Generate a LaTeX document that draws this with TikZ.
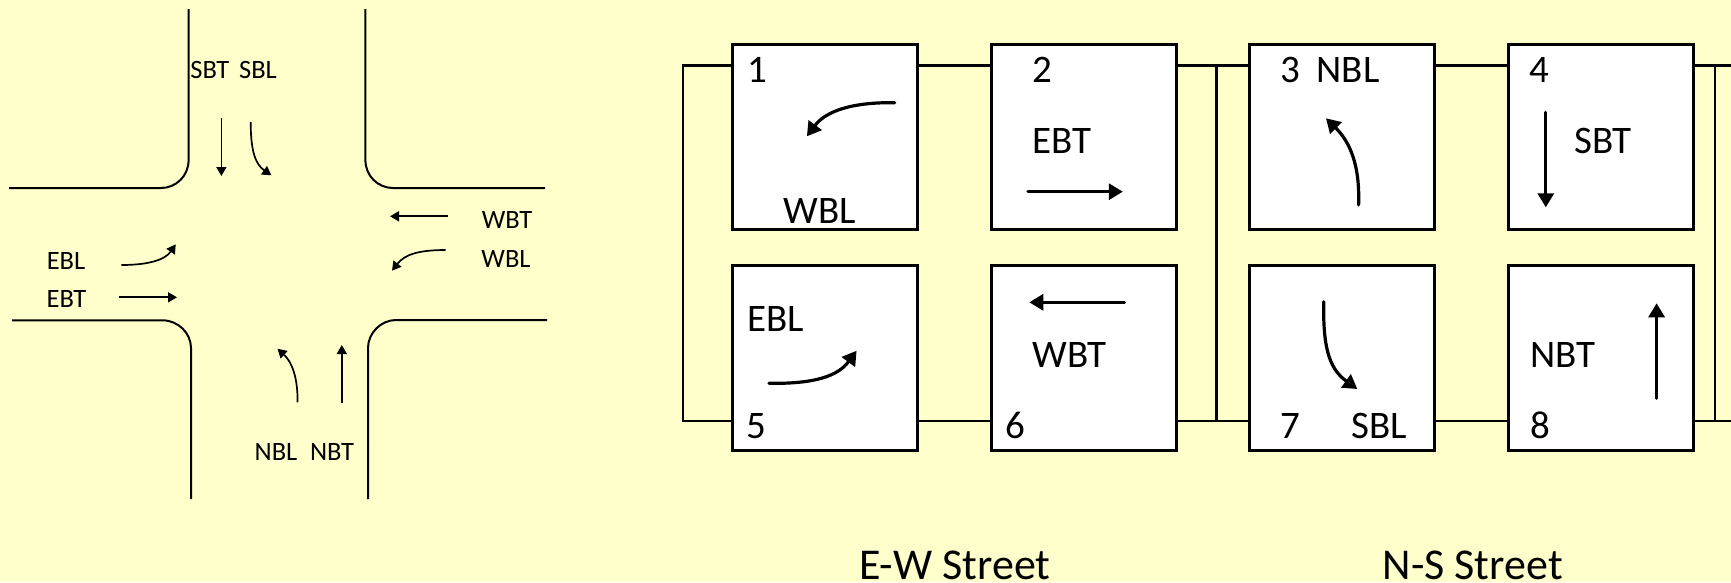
\documentclass[tikz,border=0pt]{standalone}
\usepackage{fontspec}
\setmainfont{Carlito}
\usepackage{xcolor}
\usepackage{tikz}
\usetikzlibrary{calc,arrows.meta}
\definecolor{paper}{HTML}{FFFFCC}
\definecolor{ink}{HTML}{000000}
\tikzset{
  curb/.style={draw=ink, line width=2pt},
  ring/.style={draw=ink, line width=2.8pt},
  phase/.style={draw=ink, fill=white, line width=3pt, minimum width=185pt, minimum height=185pt, inner sep=0pt, outer sep=0pt},
  sarrow/.style={draw=ink, line width=1.7pt, -{Triangle[length=9pt,width=10pt]}},
  barrow/.style={draw=ink, line width=3.2pt, line cap=round, -{Triangle[length=14pt,width=16pt]}},
  slbl/.style={text=ink, font=\fontsize{26.5}{26.5}\selectfont, inner sep=0pt, text height=16.7pt, text depth=0pt},
  blbl/.style={text=ink, font=\fontsize{39}{39}\selectfont, inner sep=0pt, text height=24.5pt, text depth=0pt},
  street/.style={text=ink, font=\fontsize{44}{44}\selectfont, inner sep=0pt, anchor=base}
}

\begin{document}
\begin{tikzpicture}[x=1pt,y=-1pt]
  \useasboundingbox (0,0) rectangle (1731,582);
  \fill[paper] (0,0) rectangle (1731,582);

  % intersection
  \draw[curb] (188.6,9) -- (188.6,160) .. controls (188.6,176) and (176,188) .. (161,188) -- (9,188);
  \draw[curb] (365.4,9) -- (365.4,160) .. controls (365.4,176) and (378,188) .. (393,188) -- (545,188);
  \draw[curb] (12,320.3) -- (162.5,320.3) .. controls (178,320.3) and (191,333) .. (191,348) -- (191,499);
  \draw[curb] (547,320) -- (396,320) .. controls (381,320) and (368,333) .. (368,348) -- (368,499);

  \draw[sarrow] (221.4,118) -- (221.4,176);
  \draw[sarrow] (250.7,122) .. controls (250.7,150) and (255,164) .. (271.4,175.3);
  \draw[sarrow] (448,216.3) -- (390,216.3);
  \draw[sarrow] (445.7,250) .. controls (420,250) and (405,254) .. (392,270.7);
  \draw[sarrow] (121.4,265) .. controls (148,265) and (165,260) .. (175.7,244.3);
  \draw[sarrow] (118.6,297.3) -- (177,297.3);
  \draw[sarrow] (297.5,402.3) .. controls (298,378) and (292,362) .. (277.5,348.7);
  \draw[sarrow] (341.8,402.7) -- (341.8,345);

  \node[slbl] (sbt) at (209.8,70) {SBT};
  \node[slbl] (sbl) at (258,70) {SBL};
  \node[slbl] (wbt) at (507,220.5) {WBT};
  \node[slbl] (wbl) at (506,259.5) {WBL};
  \node[slbl] (ebl) at (66,260.7) {EBL};
  \node[slbl] (ebt) at (66.4,299) {EBT};
  \node[slbl] (nbl) at (276,452.5) {NBL};
  \node[slbl] (nbt) at (332,452.5) {NBT};

  % ring lines
  \coordinate (T) at (0,65.3);
  \coordinate (B) at (0,421);
  \coordinate (LT) at (683,65.3);
  \coordinate (LB) at (683,421);
  \coordinate (MT) at (1216.3,65.3);
  \coordinate (MB) at (1216.3,421);
  \coordinate (RT) at (1715,65.3);
  \coordinate (RB) at (1715,421);
  \coordinate (ET) at (1731,65.3);
  \coordinate (EB) at (1731,421);

  \node[phase] (P1) at (825.4,136.5) {};
  \node[phase] (P2) at (1084.2,136.5) {};
  \node[phase] (P3) at (1342.4,136.5) {};
  \node[phase] (P4) at (1601.4,136.5) {};
  \node[phase] (P5) at (825.4,358) {};
  \node[phase] (P6) at (1084.2,358) {};
  \node[phase] (P7) at (1342.4,358) {};
  \node[phase] (P8) at (1601.4,358) {};

  \draw[ring] (P1.west |- T) -- (LT) -- (LB) -- (P5.west |- B);
  \draw[ring] (P1.east |- T) -- (P2.west |- T);
  \draw[ring] (P2.east |- T) -- (P3.west |- T);
  \draw[ring] (P3.east |- T) -- (P4.west |- T);
  \draw[ring] (P4.east |- T) -- (ET);
  \draw[ring] (P5.east |- B) -- (P6.west |- B);
  \draw[ring] (P6.east |- B) -- (P7.west |- B);
  \draw[ring] (P7.east |- B) -- (P8.west |- B);
  \draw[ring] (P8.east |- B) -- (EB);
  \draw[ring] (MT) -- (MB);
  \draw[ring] (RT) -- (RB);

  % phase arrows
  \draw[barrow] (894.8,102.7) .. controls (850,102) and (825,112) .. (806.9,136.3);
  \draw[barrow] (1028,191.7) -- (1122.8,191.7);
  \draw[barrow] (1358.6,205) .. controls (1360,165) and (1350,142) .. (1326,118.3);
  \draw[barrow] (1545.8,112.3) -- (1545.8,207.3);
  \draw[barrow] (769,383.3) .. controls (815,384) and (838,376) .. (856.6,350.7);
  \draw[barrow] (1124.5,302.3) -- (1029.3,302.3);
  \draw[barrow] (1323.7,301.7) .. controls (1323,345) and (1328,368) .. (1357.3,389);
  \draw[barrow] (1656.6,398.3) -- (1656.6,303.3);

  \node[blbl] (n1) at (757,70) {1};
  \node[blbl] (n2) at (1042,70) {2};
  \node[blbl] (n3) at (1290.8,70) {3};
  \node[blbl] (n4) at (1539.5,70) {4};
  \node[blbl] (n5) at (756.7,426) {5};
  \node[blbl] (n6) at (1015.7,426) {6};
  \node[blbl] (n7) at (1290.7,426) {7};
  \node[blbl] (n8) at (1540,426) {8};

  \node[blbl] (pwbl) at (820,211.7) {WBL};
  \node[blbl] (pebt) at (1062,141) {EBT};
  \node[blbl] (pnbl) at (1348,70) {NBL};
  \node[blbl] (psbt) at (1603,141) {SBT};
  \node[blbl] (pebl) at (776,319.5) {EBL};
  \node[blbl] (pwbt) at (1069.5,355) {WBT};
  \node[blbl] (psbl) at (1379.5,426) {SBL};
  \node[blbl] (pnbt) at (1563,355) {NBT};

  \node[street] (ew) at (954.8,579) {E-W Street};
  \node[street] (ns) at (1472.7,579) {N-S Street};
\end{tikzpicture}
\end{document}
